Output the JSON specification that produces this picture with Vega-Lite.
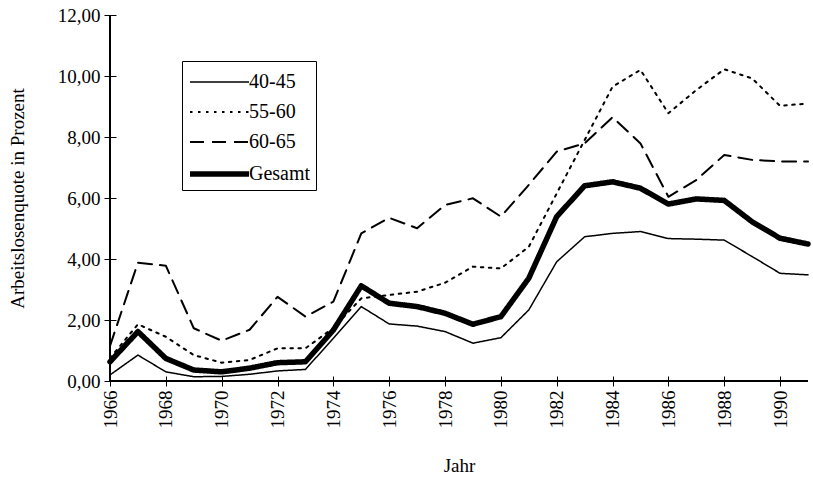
{
  "$schema": "https://vega.github.io/schema/vega-lite/v6.json",
  "width": 698,
  "height": 366,
  "autosize": {"type": "none"},
  "padding": {"left": 110, "top": 15, "right": 5, "bottom": 98},
  "background": "white",
  "config": {"font": "Liberation Serif", "view": {"stroke": null}},
  "data": {"values": [
    {"Jahr":1966,"Gruppe":"40-45","Wert":0.20},{"Jahr":1966,"Gruppe":"55-60","Wert":0.75},{"Jahr":1966,"Gruppe":"60-65","Wert":1.15},{"Jahr":1966,"Gruppe":"Gesamt","Wert":0.63},
    {"Jahr":1967,"Gruppe":"40-45","Wert":0.85},{"Jahr":1967,"Gruppe":"55-60","Wert":1.86},{"Jahr":1967,"Gruppe":"60-65","Wert":3.88},{"Jahr":1967,"Gruppe":"Gesamt","Wert":1.62},
    {"Jahr":1968,"Gruppe":"40-45","Wert":0.30},{"Jahr":1968,"Gruppe":"55-60","Wert":1.45},{"Jahr":1968,"Gruppe":"60-65","Wert":3.78},{"Jahr":1968,"Gruppe":"Gesamt","Wert":0.74},
    {"Jahr":1969,"Gruppe":"40-45","Wert":0.14},{"Jahr":1969,"Gruppe":"55-60","Wert":0.85},{"Jahr":1969,"Gruppe":"60-65","Wert":1.73},{"Jahr":1969,"Gruppe":"Gesamt","Wert":0.36},
    {"Jahr":1970,"Gruppe":"40-45","Wert":0.15},{"Jahr":1970,"Gruppe":"55-60","Wert":0.60},{"Jahr":1970,"Gruppe":"60-65","Wert":1.32},{"Jahr":1970,"Gruppe":"Gesamt","Wert":0.30},
    {"Jahr":1971,"Gruppe":"40-45","Wert":0.22},{"Jahr":1971,"Gruppe":"55-60","Wert":0.69},{"Jahr":1971,"Gruppe":"60-65","Wert":1.68},{"Jahr":1971,"Gruppe":"Gesamt","Wert":0.42},
    {"Jahr":1972,"Gruppe":"40-45","Wert":0.33},{"Jahr":1972,"Gruppe":"55-60","Wert":1.07},{"Jahr":1972,"Gruppe":"60-65","Wert":2.76},{"Jahr":1972,"Gruppe":"Gesamt","Wert":0.60},
    {"Jahr":1973,"Gruppe":"40-45","Wert":0.38},{"Jahr":1973,"Gruppe":"55-60","Wert":1.07},{"Jahr":1973,"Gruppe":"60-65","Wert":2.11},{"Jahr":1973,"Gruppe":"Gesamt","Wert":0.63},
    {"Jahr":1974,"Gruppe":"40-45","Wert":1.40},{"Jahr":1974,"Gruppe":"55-60","Wert":1.74},{"Jahr":1974,"Gruppe":"60-65","Wert":2.60},{"Jahr":1974,"Gruppe":"Gesamt","Wert":1.67},
    {"Jahr":1975,"Gruppe":"40-45","Wert":2.44},{"Jahr":1975,"Gruppe":"55-60","Wert":2.71},{"Jahr":1975,"Gruppe":"60-65","Wert":4.84},{"Jahr":1975,"Gruppe":"Gesamt","Wert":3.12},
    {"Jahr":1976,"Gruppe":"40-45","Wert":1.87},{"Jahr":1976,"Gruppe":"55-60","Wert":2.82},{"Jahr":1976,"Gruppe":"60-65","Wert":5.35},{"Jahr":1976,"Gruppe":"Gesamt","Wert":2.55},
    {"Jahr":1977,"Gruppe":"40-45","Wert":1.80},{"Jahr":1977,"Gruppe":"55-60","Wert":2.93},{"Jahr":1977,"Gruppe":"60-65","Wert":5.01},{"Jahr":1977,"Gruppe":"Gesamt","Wert":2.44},
    {"Jahr":1978,"Gruppe":"40-45","Wert":1.62},{"Jahr":1978,"Gruppe":"55-60","Wert":3.22},{"Jahr":1978,"Gruppe":"60-65","Wert":5.77},{"Jahr":1978,"Gruppe":"Gesamt","Wert":2.22},
    {"Jahr":1979,"Gruppe":"40-45","Wert":1.24},{"Jahr":1979,"Gruppe":"55-60","Wert":3.75},{"Jahr":1979,"Gruppe":"60-65","Wert":5.99},{"Jahr":1979,"Gruppe":"Gesamt","Wert":1.86},
    {"Jahr":1980,"Gruppe":"40-45","Wert":1.42},{"Jahr":1980,"Gruppe":"55-60","Wert":3.69},{"Jahr":1980,"Gruppe":"60-65","Wert":5.39},{"Jahr":1980,"Gruppe":"Gesamt","Wert":2.11},
    {"Jahr":1981,"Gruppe":"40-45","Wert":2.33},{"Jahr":1981,"Gruppe":"55-60","Wert":4.40},{"Jahr":1981,"Gruppe":"60-65","Wert":6.43},{"Jahr":1981,"Gruppe":"Gesamt","Wert":3.37},
    {"Jahr":1982,"Gruppe":"40-45","Wert":3.91},{"Jahr":1982,"Gruppe":"55-60","Wert":6.15},{"Jahr":1982,"Gruppe":"60-65","Wert":7.52},{"Jahr":1982,"Gruppe":"Gesamt","Wert":5.39},
    {"Jahr":1983,"Gruppe":"40-45","Wert":4.73},{"Jahr":1983,"Gruppe":"55-60","Wert":7.90},{"Jahr":1983,"Gruppe":"60-65","Wert":7.79},{"Jahr":1983,"Gruppe":"Gesamt","Wert":6.40},
    {"Jahr":1984,"Gruppe":"40-45","Wert":4.84},{"Jahr":1984,"Gruppe":"55-60","Wert":9.65},{"Jahr":1984,"Gruppe":"60-65","Wert":8.65},{"Jahr":1984,"Gruppe":"Gesamt","Wert":6.53},
    {"Jahr":1985,"Gruppe":"40-45","Wert":4.90},{"Jahr":1985,"Gruppe":"55-60","Wert":10.20},{"Jahr":1985,"Gruppe":"60-65","Wert":7.79},{"Jahr":1985,"Gruppe":"Gesamt","Wert":6.32},
    {"Jahr":1986,"Gruppe":"40-45","Wert":4.67},{"Jahr":1986,"Gruppe":"55-60","Wert":8.78},{"Jahr":1986,"Gruppe":"60-65","Wert":6.04},{"Jahr":1986,"Gruppe":"Gesamt","Wert":5.80},
    {"Jahr":1987,"Gruppe":"40-45","Wert":4.65},{"Jahr":1987,"Gruppe":"55-60","Wert":9.54},{"Jahr":1987,"Gruppe":"60-65","Wert":6.59},{"Jahr":1987,"Gruppe":"Gesamt","Wert":5.97},
    {"Jahr":1988,"Gruppe":"40-45","Wert":4.62},{"Jahr":1988,"Gruppe":"55-60","Wert":10.22},{"Jahr":1988,"Gruppe":"60-65","Wert":7.41},{"Jahr":1988,"Gruppe":"Gesamt","Wert":5.92},
    {"Jahr":1989,"Gruppe":"40-45","Wert":4.08},{"Jahr":1989,"Gruppe":"55-60","Wert":9.92},{"Jahr":1989,"Gruppe":"60-65","Wert":7.25},{"Jahr":1989,"Gruppe":"Gesamt","Wert":5.22},
    {"Jahr":1990,"Gruppe":"40-45","Wert":3.53},{"Jahr":1990,"Gruppe":"55-60","Wert":9.02},{"Jahr":1990,"Gruppe":"60-65","Wert":7.20},{"Jahr":1990,"Gruppe":"Gesamt","Wert":4.68},
    {"Jahr":1991,"Gruppe":"40-45","Wert":3.48},{"Jahr":1991,"Gruppe":"55-60","Wert":9.10},{"Jahr":1991,"Gruppe":"60-65","Wert":7.20},{"Jahr":1991,"Gruppe":"Gesamt","Wert":4.49}
  ]},
  "layer": [
    {
      "mark": {"type": "line", "color": "black", "strokeCap": "round", "strokeJoin": "round"},
      "encoding": {
        "x": {"field": "Jahr", "type": "quantitative",
          "scale": {"domain": [1966, 1991], "nice": false, "zero": false},
          "axis": {"title": "Jahr", "values": [1966,1967,1968,1969,1970,1971,1972,1973,1974,1975,1976,1977,1978,1979,1980,1981,1982,1983,1984,1985,1986,1987,1988,1989,1990,1991],
            "labelExpr": "datum.value % 2 === 0 ? format(datum.value, 'd') : ''",
            "labelAngle": 270, "labelAlign": "right", "labelBaseline": "middle",
            "labelFlush": false, "labelOverlap": false, "labelBound": false,
            "domain": false, "grid": false, "offset": -5, "tickSize": 10, "tickColor": "black",
            "labelFontSize": 19, "labelColor": "black", "labelPadding": 4,
            "titleFontSize": 19, "titleFontWeight": "normal", "titleColor": "black", "titlePadding": 28}},
        "y": {"field": "Wert", "type": "quantitative",
          "scale": {"domain": [0, 12], "nice": false},
          "axis": {"title": "Arbeitslosenquote in Prozent", "values": [0,2,4,6,8,10,12],
            "labelExpr": "replace(format(datum.value, '.2f'), '.', ',')",
            "domain": false, "grid": false, "offset": -6, "tickSize": 12, "tickColor": "black",
            "labelFontSize": 19, "labelColor": "black", "labelPadding": 4,
            "titleFontSize": 19, "titleFontWeight": "normal", "titleColor": "black", "titlePadding": 30}},
        "strokeDash": {"field": "Gruppe", "type": "nominal",
          "scale": {"domain": ["40-45","55-60","60-65","Gesamt"], "range": [[1,0],[2.5,5.5],[14,8],[1,0]]},
          "legend": {"orient": "none", "legendX": 72, "legendY": 46, "title": " ", "titleFontSize": 5, "titlePadding": 0,
            "symbolType": "M-1,0H4.9", "symbolSize": 400, "symbolStrokeColor": "black", "symbolFillColor": "transparent",
            "labelFontSize": 20, "labelColor": "black", "labelOffset": 36,
            "strokeColor": "black", "padding": 5, "rowPadding": 9}},
        "strokeWidth": {"field": "Gruppe", "type": "nominal",
          "scale": {"type": "ordinal", "domain": ["40-45","55-60","60-65","Gesamt"], "range": [1.5, 2, 2, 5.5]},
          "legend": {"orient": "none", "legendX": 72, "legendY": 46, "title": " ", "titleFontSize": 5, "titlePadding": 0,
            "symbolType": "M-1,0H4.9", "symbolSize": 400, "symbolStrokeColor": "black", "symbolFillColor": "transparent",
            "labelFontSize": 20, "labelColor": "black", "labelOffset": 36,
            "strokeColor": "black", "padding": 5, "rowPadding": 9}}
      }
    },
    {
      "mark": {"type": "rule", "color": "black", "strokeWidth": 1},
      "encoding": {"x": {"datum": 1966, "type": "quantitative"}}
    },
    {
      "mark": {"type": "rule", "color": "black", "strokeWidth": 1},
      "encoding": {"y": {"datum": 0, "type": "quantitative"}}
    }
  ]
}
